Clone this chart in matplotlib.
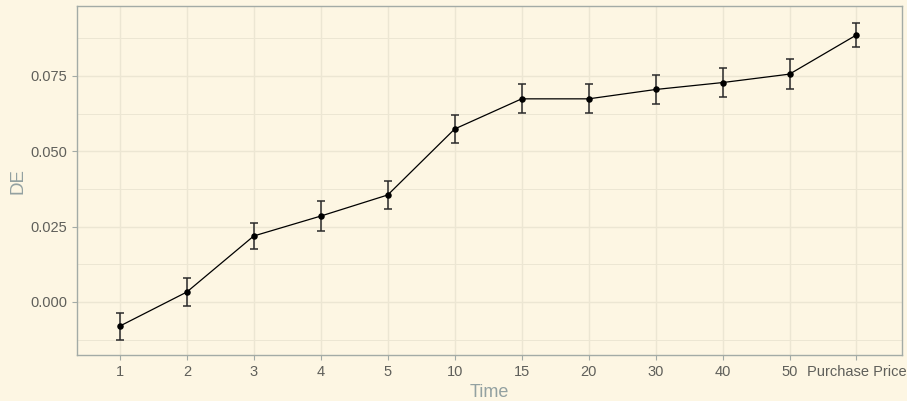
import matplotlib
matplotlib.use("Agg")
import matplotlib.pyplot as plt
import numpy as np

categories = ["1", "2", "3", "4", "5", "10", "15", "20", "30", "40", "50", "Purchase Price"]
de_values = [-0.0080, 0.0033, 0.0219, 0.0285, 0.0355, 0.0574, 0.0674, 0.0674, 0.0705, 0.0728, 0.0756, 0.0886]
de_errors = [0.0045, 0.0046, 0.0043, 0.0050, 0.0048, 0.0045, 0.0048, 0.0048, 0.0047, 0.0049, 0.0049, 0.0039]
y_ticks = [0.000, 0.025, 0.050, 0.075]
y_tick_labels = ["0.000", "0.025", "0.050", "0.075"]

plt.rcParams['font.family'] = ['Liberation Sans', 'DejaVu Sans']
bg = "#fdf6e3"
fig = plt.figure(figsize=(9.07, 4.01), dpi=100, facecolor=bg)
ax = fig.add_axes([0.0849, 0.1147, 0.9096, 0.8703], facecolor=bg)

x = np.arange(1, len(categories) + 1)
ax.plot(x, de_values, color="black", lw=0.9, zorder=3)
ax.errorbar(x, de_values, yerr=de_errors, fmt="none", ecolor="#2a2a2a",
            elinewidth=1.1, capsize=2.6, capthick=1.1, zorder=3)
ax.scatter(x, de_values, s=22, color="black", zorder=4, linewidths=0)

ax.set_xlim(0.36, len(categories) + 0.68)
ax.set_ylim(-0.0176, 0.0982)
ax.set_xticks(x)
ax.set_xticklabels(categories)
ax.set_yticks(y_ticks)
ax.set_yticklabels(y_tick_labels)
ax.set_yticks([-0.0125, 0.0125, 0.0375, 0.0625, 0.0875], minor=True)
ax.tick_params(which="minor", length=0)

grid_c = "#ece6d3"
ax.grid(True, which="major", color=grid_c, lw=1.0, zorder=0)
ax.grid(True, which="minor", axis="y", color=grid_c, lw=0.7, zorder=0)
ax.set_axisbelow(True)

for s in ax.spines.values():
    s.set_color("#a3aba6")
    s.set_linewidth(1.0)

ax.tick_params(axis="both", which="major", length=3.5, width=0.8, color="#a3aba6",
               labelcolor="#5f5f5a", labelsize=10.5, pad=3.5)
ax.set_xlabel("Time", color="#93a1a1", fontsize=13, labelpad=4)
ax.set_ylabel("DE", color="#93a1a1", fontsize=13.5, labelpad=3)

fig.savefig("out.png", dpi=100, facecolor=bg)
